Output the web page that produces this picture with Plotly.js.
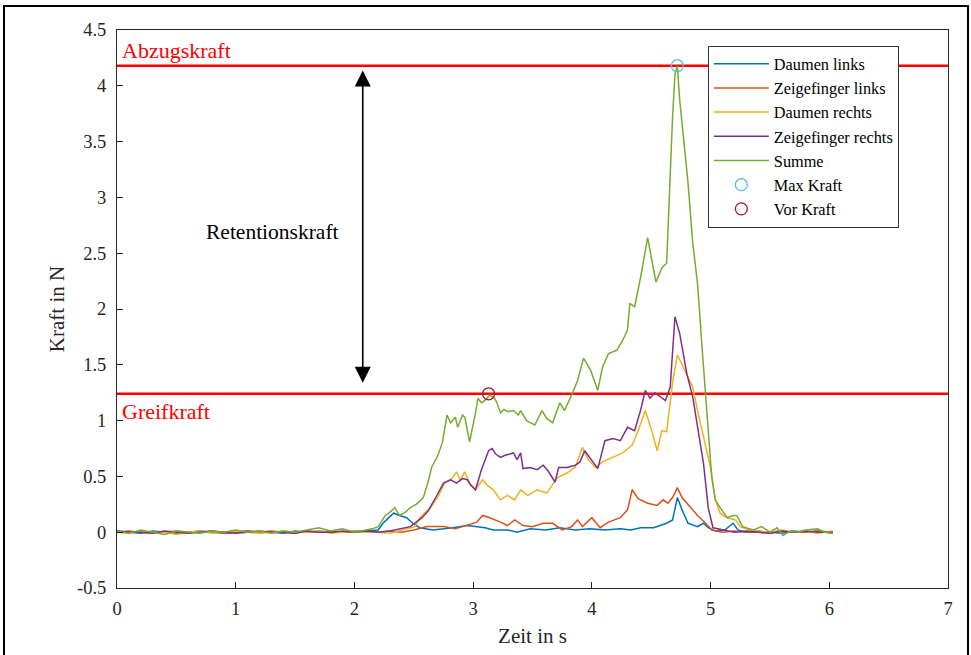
<!DOCTYPE html>
<html>
<head>
<meta charset="utf-8">
<script src="https://cdn.plot.ly/plotly-3.0.1.min.js"></script>
<style>
  html, body { margin: 0; padding: 0; background: #fff; }
  #wrap { position: relative; width: 971px; height: 655px; overflow: hidden; }
  #plot { width: 971px; height: 655px; }
  #frame { position: absolute; left: 3px; top: 5px; width: 962px; height: 720px; border: 2px solid #000; pointer-events: none; }
</style>
</head>
<body>
<div id="wrap"><div id="plot"></div><div id="frame"></div></div>
<script>
// ---- data (time in s, force in N) ----
const seriesNames = ["Daumen links", "Zeigefinger links", "Daumen rechts", "Zeigefinger rechts", "Summe"];

const blueT = [0,0.1,0.2,0.3,0.4,0.5,0.6,0.7,0.8,0.9,1.0,1.1,1.2,1.3,1.4,1.5,1.6,1.7,1.8,1.9,2.0,2.1,
  2.2,2.24,2.27,2.33,2.38,2.44,2.49,2.55,
  2.66,2.75,2.83,2.95,3.03,3.1,3.17,3.29,3.37,
  3.48,3.61,3.73,3.86,3.98,4.11,4.24,4.33,4.41,4.52,
  4.63,4.68,4.72,4.76,4.81,4.89,4.94,4.98,5.04,5.12,
  5.19,5.23,5.3,5.4,5.5,5.6,5.7,5.8,5.9,6.03];
const blueY = [0.01,0.0,-0.01,0.01,0.0,-0.01,0.0,0.01,0.0,-0.01,0.0,0.01,0.0,0.0,-0.01,0.01,0.0,0.01,0.0,0.0,0.01,0.01,
  0.02,0.08,0.11,0.17,0.15,0.13,0.08,0.04,
  0.02,0.03,0.04,0.06,0.05,0.04,0.02,0.02,0.0,
  0.03,0.02,0.04,0.02,0.03,0.02,0.03,0.02,0.04,0.04,
  0.08,0.11,0.31,0.2,0.08,0.05,0.08,0.04,0.01,0.02,
  0.08,0.02,0.0,0.01,0.0,-0.01,0.01,0.0,0.01,0.0];

const redT = [0,0.1,0.2,0.3,0.4,0.5,0.6,0.7,0.8,0.9,1.0,1.1,1.2,1.3,1.4,1.5,1.6,1.7,1.8,1.9,2.0,2.1,2.2,2.3,2.4,2.5,
  2.61,2.75,2.85,2.95,3.03,3.08,3.14,3.23,3.29,3.35,
  3.42,3.5,3.59,3.67,3.75,3.83,3.88,3.92,4.0,4.07,
  4.14,4.24,4.3,4.34,4.39,4.47,4.55,4.6,4.64,4.68,
  4.72,4.76,4.83,4.89,4.95,5.01,5.1,5.2,5.3,5.4,
  5.5,5.6,5.7,5.8,5.9,6.03];
const redY = [0.0,0.01,0.0,-0.01,0.0,0.01,0.0,0.0,0.01,-0.01,0.0,0.01,0.0,0.01,0.0,-0.01,0.01,0.0,0.01,0.0,0.0,0.01,0.0,0.01,0.0,0.02,
  0.05,0.05,0.03,0.06,0.09,0.15,0.13,0.09,0.06,0.11,
  0.06,0.05,0.08,0.08,0.02,0.05,0.11,0.05,0.13,0.04,
  0.09,0.13,0.2,0.38,0.3,0.26,0.24,0.29,0.26,0.31,
  0.4,0.31,0.22,0.15,0.09,0.02,0.0,0.01,0.0,0.0,
  -0.01,0.01,0.0,0.0,0.01,-0.01];

const yellowT = [0,0.1,0.2,0.3,0.4,0.5,0.6,0.7,0.8,0.9,1.0,1.1,1.2,1.3,1.4,1.5,1.6,1.7,1.8,1.9,2.0,2.1,2.2,2.3,2.4,
  2.51,2.55,2.59,2.64,2.7,2.76,2.82,2.86,2.89,2.93,
  2.97,3.02,3.08,3.12,3.17,3.23,3.29,3.35,3.4,3.46,
  3.54,3.62,3.71,3.79,3.86,3.92,3.97,4.03,4.09,4.18,
  4.26,4.34,4.39,4.45,4.51,4.55,4.59,4.63,4.68,4.72,
  4.77,4.85,4.89,4.95,5.0,5.04,5.08,5.14,5.21,5.25,
  5.33,5.4,5.5,5.6,5.7,5.8,5.9,6.03];
const yellowY = [0.0,-0.01,0.01,0.0,0.0,-0.02,0.0,0.01,-0.01,0.0,0.01,0.0,-0.01,0.0,0.01,0.0,0.0,0.01,-0.01,0.0,0.01,0.0,0.0,-0.01,0.02,
  0.05,0.13,0.17,0.22,0.31,0.44,0.48,0.54,0.47,0.54,
  0.44,0.38,0.47,0.42,0.38,0.29,0.33,0.29,0.38,0.33,
  0.38,0.35,0.49,0.53,0.58,0.76,0.65,0.58,0.63,0.67,
  0.71,0.78,0.91,1.09,0.89,0.73,0.91,0.9,1.34,1.59,
  1.48,1.3,1.09,0.8,0.58,0.29,0.17,0.13,0.11,0.05,
  0.02,0.01,0.0,0.02,0.0,0.01,-0.01,0.01];

const purpleT = [0,0.1,0.2,0.3,0.4,0.5,0.6,0.7,0.8,0.9,1.0,1.1,1.2,1.3,1.4,1.5,1.6,1.7,1.8,1.9,2.0,2.1,2.2,2.3,2.4,
  2.47,2.52,2.57,2.62,2.66,2.7,2.75,2.81,2.86,2.91,
  2.95,2.98,3.02,3.07,3.13,3.16,3.19,3.23,3.27,3.34,
  3.37,3.4,3.42,3.48,3.54,3.59,3.63,3.69,3.72,3.79,
  3.86,3.9,3.94,3.98,4.05,4.11,4.18,4.24,4.3,4.36,
  4.41,4.45,4.49,4.53,4.57,4.62,4.66,4.7,4.74,4.8,
  4.85,4.89,4.94,4.98,5.02,5.11,5.2,5.3,5.4,5.5,5.6,5.7,5.8,5.9,6.03];
const purpleY = [0.01,0.0,0.0,-0.01,0.01,0.0,-0.01,0.0,0.01,0.0,-0.01,0.0,0.01,0.0,0.0,-0.01,0.01,0.0,0.0,0.01,0.0,0.01,0.0,0.01,0.03,
  0.05,0.09,0.13,0.19,0.26,0.34,0.44,0.47,0.44,0.48,
  0.47,0.42,0.38,0.56,0.73,0.75,0.7,0.67,0.69,0.71,
  0.65,0.71,0.57,0.58,0.56,0.6,0.55,0.45,0.58,0.58,
  0.6,0.63,0.73,0.67,0.57,0.82,0.84,0.82,0.94,0.91,
  1.09,1.27,1.2,1.25,1.22,1.18,1.3,1.93,1.78,1.42,
  1.21,0.94,0.62,0.22,0.04,0.02,0.0,0.01,0.0,-0.01,0.01,0.0,0.01,0.0,0.0];

const greenT = [0,0.1,0.2,0.3,0.4,0.5,0.6,0.7,0.8,0.9,1.0,1.1,1.2,1.3,1.4,1.5,1.6,1.7,1.8,1.9,2.0,2.1,
  2.15,2.2,2.26,2.3,2.34,2.38,2.43,2.47,2.52,2.58,
  2.62,2.65,2.7,2.74,2.78,2.81,2.85,2.87,2.91,2.93,
  2.97,3.02,3.04,3.07,3.1,3.14,3.18,3.2,3.23,3.26,
  3.29,3.34,3.38,3.4,3.45,3.52,3.58,3.62,3.67,3.73,
  3.77,3.83,3.88,3.93,3.99,4.05,4.09,4.14,4.21,4.26,
  4.3,4.32,4.36,4.41,4.47,4.51,4.54,4.59,4.63,4.68,
  4.7,4.72,4.74,4.78,4.81,4.85,4.89,4.93,4.95,4.98,
  5.01,5.04,5.08,5.14,5.19,5.22,5.27,5.36,5.43,5.5,
  5.56,5.61,5.67,5.73,5.8,5.9,5.96,6.03];
const greenY = [0.01,-0.01,0.02,0.0,-0.02,0.01,0.0,-0.01,0.01,0.0,0.02,0.0,0.01,-0.01,0.01,0.0,0.02,0.04,0.01,0.03,0.0,0.02,
  0.03,0.05,0.15,0.18,0.22,0.15,0.18,0.22,0.25,0.31,
  0.45,0.58,0.68,0.8,1.05,0.98,1.03,0.94,1.05,1.03,
  0.81,1.07,1.2,1.16,1.18,1.23,1.2,1.16,1.07,1.1,
  1.08,1.09,1.05,1.09,1.0,0.96,1.09,1.02,0.98,1.16,
  1.09,1.23,1.36,1.56,1.45,1.27,1.48,1.6,1.63,1.72,
  1.81,2.05,2.02,2.28,2.64,2.41,2.24,2.37,2.41,3.72,
  4.1,4.18,3.87,3.45,3.13,2.59,2.23,1.63,1.34,0.89,
  0.49,0.29,0.22,0.13,0.15,0.15,0.05,0.02,0.05,0.0,
  0.04,-0.03,0.01,0.0,0.02,0.03,0.0,-0.01];

const maxKraftT = [4.72], maxKraftY = [4.18];
const vorKraftT = [3.13], vorKraftY = [1.24];
const abzugskraft = 4.18;
const greifkraft = 1.24;
const xRange = [0, 7];
const yRange = [-0.5, 4.5];
const xTicks = [0, 1, 2, 3, 4, 5, 6, 7];
const yTicks = [-0.5, 0, 0.5, 1, 1.5, 2, 2.5, 3, 3.5, 4, 4.5];
const yTickLabels = ["-0.5", "0", "0.5", "1", "1.5", "2", "2.5", "3", "3.5", "4", "4.5"];
const arrowT = 2.07, arrowTop = 4.15, arrowBottom = 1.34;
const retentionT = 1.89, retentionY = 2.69;

// ---- drawing ----
const FONT = "Liberation Serif";
const colors = ["#0072BD", "#D95319", "#EDB120", "#7E2F8E", "#77AC30"];
const xs = [blueT, redT, yellowT, purpleT, greenT];
const ys = [blueY, redY, yellowY, purpleY, greenY];

const traces = [
  {x: xRange, y: [abzugskraft, abzugskraft], mode: "lines", line: {color: "#ff0000", width: 2.5}, showlegend: false, hoverinfo: "skip"},
  {x: xRange, y: [greifkraft, greifkraft], mode: "lines", line: {color: "#ff0000", width: 2.5}, showlegend: false, hoverinfo: "skip"}
];
seriesNames.forEach((n, i) => traces.push({
  x: xs[i], y: ys[i], name: n, mode: "lines", line: {color: colors[i], width: 1.5}
}));
traces.push({x: maxKraftT, y: maxKraftY, name: "Max Kraft", mode: "markers",
  marker: {symbol: "circle-open", size: 12, color: "#4DBEEE", line: {width: 1.3}}});
traces.push({x: vorKraftT, y: vorKraftY, name: "Vor Kraft", mode: "markers",
  marker: {symbol: "circle-open", size: 12, color: "#A2142F", line: {width: 1.3}}});

const axisCommon = {
  showline: true, mirror: true, linecolor: "#262626", linewidth: 1,
  ticks: "inside", ticklen: 6, tickcolor: "#262626",
  showgrid: false, zeroline: false,
  tickfont: {family: FONT, size: 18.5, color: "#262626"}
};

const layout = {
  width: 971, height: 655,
  margin: {l: 117, r: 23, t: 30, b: 67},
  paper_bgcolor: "#fff", plot_bgcolor: "#fff",
  font: {family: FONT, color: "#262626"},
  xaxis: Object.assign({}, axisCommon, {
    range: xRange, tickvals: xTicks, ticktext: xTicks.map(String), ticklabelstandoff: 4,
    title: {text: "Zeit in s", font: {family: FONT, size: 21, color: "#262626"}, standoff: 10}
  }),
  yaxis: Object.assign({}, axisCommon, {
    range: yRange, tickvals: yTicks, ticktext: yTickLabels, ticklabelstandoff: 6,
    title: {text: "Kraft in N", font: {family: FONT, size: 21, color: "#262626"}, standoff: 6}
  }),
  legend: {
    x: 0.711, y: 0.972, xanchor: "left", yanchor: "top",
    bgcolor: "#fff", bordercolor: "#333", borderwidth: 1,
    font: {family: FONT, size: 16.3, color: "#000"},
    itemwidth: 55, entrywidth: 150, tracegroupgap: 0
  },
  annotations: [
    {x: 0, y: abzugskraft, xref: "x", yref: "y", text: "Abzugskraft", showarrow: false,
      xanchor: "left", yanchor: "bottom", xshift: 3, yshift: 1, font: {family: FONT, size: 22, color: "#ff0000"}},
    {x: 0, y: greifkraft, xref: "x", yref: "y", text: "Greifkraft", showarrow: false,
      xanchor: "left", yanchor: "top", xshift: 3, yshift: -3, font: {family: FONT, size: 22, color: "#ff0000"}},
    {x: retentionT, y: retentionY, xref: "x", yref: "y", text: "Retentionskraft", showarrow: false,
      xanchor: "right", yanchor: "middle", font: {family: FONT, size: 21.5, color: "#000"}},
    {x: arrowT, y: arrowBottom, ax: arrowT, ay: arrowTop, xref: "x", yref: "y", axref: "x", ayref: "y",
      text: "", showarrow: true, arrowside: "end+start", arrowhead: 2, arrowsize: 2, arrowwidth: 1.6, arrowcolor: "#000"}
  ]
};

Plotly.newPlot("plot", traces, layout, {displayModeBar: false, staticPlot: true});
</script>
</body>
</html>
